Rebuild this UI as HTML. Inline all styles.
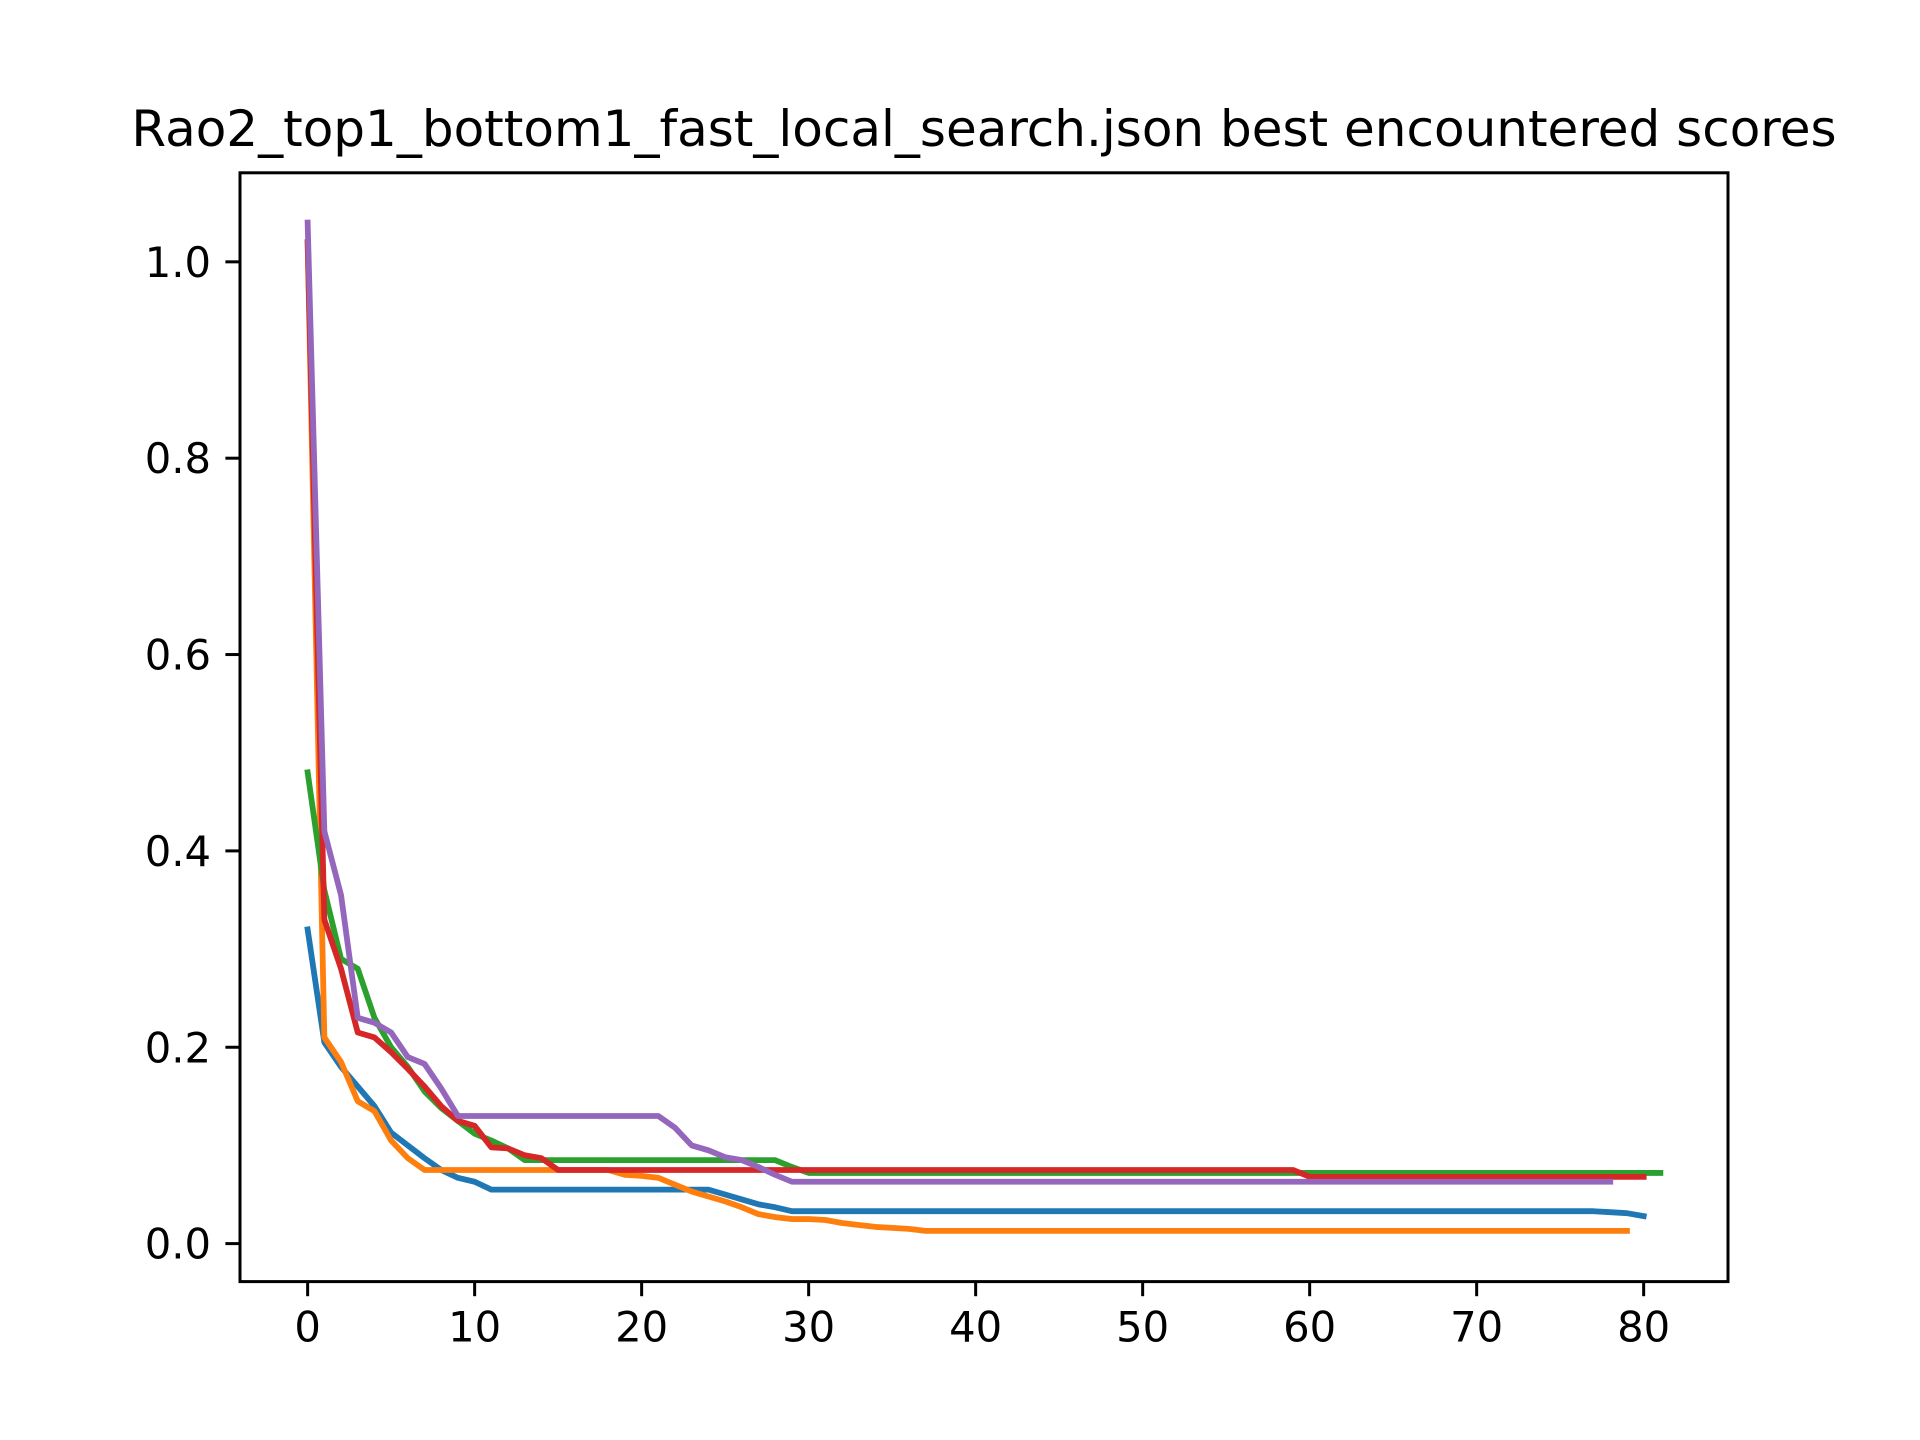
<!DOCTYPE html>
<html><head><meta charset="utf-8">
<style>
html,body{margin:0;padding:0;background:#fff;}
svg{display:block;font-family:"DejaVu Sans","Liberation Sans",sans-serif;}
</style></head>
<body>
<svg id="chart" width="1920" height="1440" viewBox="0 0 1920 1440" xmlns="http://www.w3.org/2000/svg">
<rect width="1920" height="1440" fill="#fff"/>
<text x="984" y="146" font-size="50" text-anchor="middle" fill="#000">Rao2_top1_bottom1_fast_local_search.json best encountered scores</text>
<g id="marks"></g>
<g id="axes"></g>
</svg>
<script>
const xTicks = [0,10,20,30,40,50,60,70,80];
const yTicks = [0.0,0.2,0.4,0.6,0.8,1.0];
const yTickLabels = ["0.0","0.2","0.4","0.6","0.8","1.0"];
const seriesColors = ["#1f77b4","#ff7f0e","#2ca02c","#d62728","#9467bd"];
const seriesBlue = [0.32,0.205,0.18,0.16,0.14,0.113,0.1,0.087,0.075,0.067,0.063,
0.055,0.055,0.055,0.055,0.055,0.055,0.055,0.055,0.055,0.055,0.055,0.055,0.055,0.055,
0.05,0.045,0.04,0.037,0.033,
0.033,0.033,0.033,0.033,0.033,0.033,0.033,0.033,0.033,0.033,0.033,0.033,0.033,0.033,0.033,0.033,0.033,0.033,0.033,0.033,
0.033,0.033,0.033,0.033,0.033,0.033,0.033,0.033,0.033,0.033,0.033,0.033,0.033,0.033,0.033,0.033,0.033,0.033,0.033,0.033,
0.033,0.033,0.033,0.033,0.033,0.033,0.033,0.033,0.032,0.031,0.028];
const seriesOrange = [1.02,0.21,0.185,0.145,0.135,0.105,0.087,0.075,0.075,0.075,0.075,0.075,0.075,0.075,0.075,0.075,0.075,0.075,0.075,
0.07,0.069,0.067,0.06,0.053,0.048,0.043,0.037,0.03,0.027,0.025,0.025,0.024,0.021,0.019,0.017,0.016,0.015,
0.013,0.013,0.013,0.013,0.013,0.013,0.013,0.013,0.013,0.013,0.013,0.013,0.013,0.013,0.013,0.013,0.013,0.013,0.013,
0.013,0.013,0.013,0.013,0.013,0.013,0.013,0.013,0.013,0.013,0.013,0.013,0.013,0.013,0.013,0.013,0.013,0.013,0.013,
0.013,0.013,0.013,0.013,0.013];
const seriesGreen = [0.48,0.36,0.29,0.28,0.23,0.2,0.18,0.155,0.138,0.125,0.112,0.105,0.097,0.085,
0.085,0.085,0.085,0.085,0.085,0.085,0.085,0.085,0.085,0.085,0.085,0.085,0.085,0.085,0.085,0.078,
0.072,0.072,0.072,0.072,0.072,0.072,0.072,0.072,0.072,0.072,0.072,0.072,0.072,0.072,0.072,0.072,0.072,0.072,0.072,0.072,
0.072,0.072,0.072,0.072,0.072,0.072,0.072,0.072,0.072,0.072,0.072,0.072,0.072,0.072,0.072,0.072,0.072,0.072,0.072,0.072,
0.072,0.072,0.072,0.072,0.072,0.072,0.072,0.072,0.072,0.072,0.072,0.072];
const seriesRed = [1.02,0.33,0.28,0.215,0.21,0.195,0.178,0.16,0.14,0.125,0.12,0.098,0.097,0.09,0.087,
0.075,0.075,0.075,0.075,0.075,0.075,0.075,0.075,0.075,0.075,0.075,0.075,0.075,0.075,0.075,
0.075,0.075,0.075,0.075,0.075,0.075,0.075,0.075,0.075,0.075,0.075,0.075,0.075,0.075,0.075,0.075,0.075,0.075,0.075,0.075,
0.075,0.075,0.075,0.075,0.075,0.075,0.075,0.075,0.075,0.075,
0.068,0.068,0.068,0.068,0.068,0.068,0.068,0.068,0.068,0.068,0.068,0.068,0.068,0.068,0.068,0.068,0.068,0.068,0.068,0.068,0.068];
const seriesPurple = [1.04,0.42,0.355,0.23,0.225,0.215,0.19,0.183,0.158,0.13,
0.13,0.13,0.13,0.13,0.13,0.13,0.13,0.13,0.13,0.13,0.13,0.13,
0.118,0.1,0.095,0.088,0.085,0.078,0.07,0.063,
0.063,0.063,0.063,0.063,0.063,0.063,0.063,0.063,0.063,0.063,0.063,0.063,0.063,0.063,0.063,0.063,0.063,0.063,0.063,0.063,
0.063,0.063,0.063,0.063,0.063,0.063,0.063,0.063,0.063,0.063,0.063,0.063,0.063,0.063,0.063,0.063,0.063,0.063,0.063,0.063,
0.063,0.063,0.063,0.063,0.063,0.063,0.063,0.063,0.063];

const L=240,R=1728,T=172.8,B=1281.6;
const xmin=-4.05,xmax=85.05,ymin=-0.0387,ymax=1.0907;
const xs=v=>L+(v-xmin)/(xmax-xmin)*(R-L);
const ys=v=>B-(v-ymin)/(ymax-ymin)*(B-T);
const NS="http://www.w3.org/2000/svg";
const marks=document.getElementById('marks');
const axes=document.getElementById('axes');
const all=[seriesBlue,seriesOrange,seriesGreen,seriesRed,seriesPurple];
const names=["series-blue","series-orange","series-green","series-red","series-purple"];
all.forEach((s,i)=>{
  const p=document.createElementNS(NS,'polyline');
  p.setAttribute('points',s.map((v,j)=>xs(j).toFixed(2)+','+ys(v).toFixed(2)).join(' '));
  p.setAttribute('fill','none');p.setAttribute('stroke',seriesColors[i]);
  p.setAttribute('stroke-width','5.8');p.setAttribute('stroke-linejoin','round');p.setAttribute('stroke-linecap','square');
  
  
  marks.appendChild(p);
});
const frame=document.createElementNS(NS,'rect');
frame.setAttribute('x',L);frame.setAttribute('y',T);frame.setAttribute('width',R-L);frame.setAttribute('height',B-T);
frame.setAttribute('fill','none');frame.setAttribute('stroke','#000');frame.setAttribute('stroke-width','3');


axes.appendChild(frame);
xTicks.forEach(v=>{
  const x=xs(v);
  const l=document.createElementNS(NS,'line');
  l.setAttribute('x1',x);l.setAttribute('x2',x);l.setAttribute('y1',B);l.setAttribute('y2',B+14.6);
  l.setAttribute('stroke','#000');l.setAttribute('stroke-width','3');
  
  
  axes.appendChild(l);
  const t=document.createElementNS(NS,'text');
  t.setAttribute('x',x);t.setAttribute('y',B+60);t.setAttribute('font-size','41.7');t.setAttribute('text-anchor','middle');
  t.textContent=v;
  
  
  axes.appendChild(t);
});
yTicks.forEach((v,i)=>{
  const y=ys(v);
  const l=document.createElementNS(NS,'line');
  l.setAttribute('x1',L-14.6);l.setAttribute('x2',L);l.setAttribute('y1',y);l.setAttribute('y2',y);
  l.setAttribute('stroke','#000');l.setAttribute('stroke-width','3');
  
  
  axes.appendChild(l);
  const t=document.createElementNS(NS,'text');
  t.setAttribute('x',L-29);t.setAttribute('y',y+15);t.setAttribute('font-size','41.7');t.setAttribute('text-anchor','end');
  t.textContent=yTickLabels[i];
  
  
  axes.appendChild(t);
});
</script>
</body></html>
